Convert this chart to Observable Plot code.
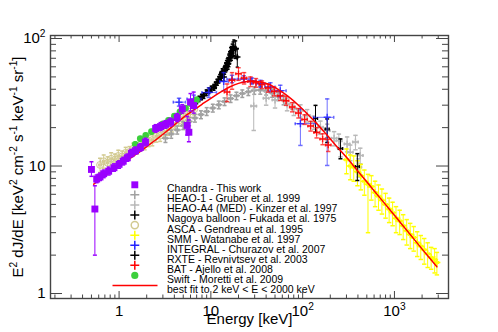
<!DOCTYPE html>
<html><head><meta charset="utf-8">
<script src="https://cdn.jsdelivr.net/npm/d3@7"></script>
<script src="https://cdn.jsdelivr.net/npm/@observablehq/plot@0.6"></script>
<style>body{margin:0;background:#fff} svg{display:block}</style>
</head><body><div id="chart"></div>
<script>
// ---------- data ----------
const xMajor = [1, 10, 100, 1000];
const xTickLabels = ["1", "10", "10^{2}", "10^{3}"];
const xMinor = [0.2,0.3,0.4,0.5,0.6,0.7,0.8,0.9,2,3,4,5,6,7,8,9,20,30,40,50,60,70,80,90,200,300,400,500,600,700,800,900,2000,3000];
const yMajor = [1, 10, 100];
const yTickLabels = ["1", "10", "10^{2}"];
const yMinor = [2,3,4,5,6,7,8,9,20,30,40,50,60,70,80,90];
const xTitle = "Energy [keV]";
const yTitle = "E^{2} dJ/dE [keV^{2} cm^{-2} s^{-1} keV^{-1} sr^{-1}]";

const legendLabels = ["Chandra - This work", "HEAO-1 - Gruber et al. 1999", "HEAO-A4 (MED) - Kinzer et al. 1997",
  "Nagoya balloon - Fukada et al. 1975", "ASCA - Gendreau et al. 1995", "SMM - Watanabe et al. 1997",
  "INTEGRAL - Churazov et al. 2007", "RXTE - Revnivtsev et al. 2003", "BAT - Ajello et al. 2008",
  "Swift - Moretti et al. 2009", "best fit to 2 keV < E < 2000 keV"];

const chandraE = [0.50,0.545,0.57,0.62,0.68,0.77,0.88,1.0,1.11,1.23,1.36,1.51,1.71,1.94,2.5,2.83,3.21,3.64,4.3,4.88,5.53,5.76,6.0,6.5];
const chandraF = [9.4,4.6,7.9,8.2,8.7,9.1,9.7,10.3,10.9,11.6,12.6,13.2,14.0,15.4,19.7,20.4,21.2,22.1,24.0,28.1,20.8,18.4,31.7,29.8];
const chandraLo = [8.3,2.0,7.4,7.7,8.1,8.5,9.1,9.6,10.2,10.9,11.8,12.4,13.1,14.4,18.4,19.0,19.8,20.6,22.3,26.0,17.5,15.5,27.0,26.0];
const chandraHi = [10.8,7.0,8.5,8.8,9.3,9.8,10.4,11.0,11.7,12.4,13.5,14.1,15.0,16.5,21.1,21.9,22.7,23.7,25.8,30.3,24.5,23.0,37.0,38.0];

const gruberE = [3.2,3.7,4.3,5.0,5.8,6.7,7.8,9.0,10.5,12.2,14.1,16.4,19.0,22.0,25.6,29.7,34.5,40.0,46.5,54.0,62.0];
const gruberF = [16.5,17.8,19.2,20.8,22.3,23.8,25.3,26.8,28.5,30.2,32.0,33.8,35.5,37.0,38.3,39.2,39.4,38.8,37.4,35.4,33.0];
const gruberDF = [1.2,1.3,1.4,1.5,1.6,1.7,1.8,1.9,2.0,2.1,2.2,2.3,2.4,2.5,2.6,2.7,2.8,2.8,2.8,2.8,2.8];

const kinzerE = [29.3,40,50,67.6,80,94.5,112,132,156,185,220,248,258,305,330,376,408,424];
const kinzerF = [29.5,34.0,33.0,30.6,28.1,27.2,24.9,22.0,20.1,19.0,16.5,15.8,13.7,14.9,12.8,15.4,9.8,12.1];
const kinzerDF = [10.5,4.0,4.5,3.5,3.2,3.0,2.8,2.6,2.4,2.3,2.1,2.0,1.9,2.0,1.8,2.0,1.6,1.7];

const nagoyaE = [138,185,258,394];
const nagoyaF = [23.6,19.5,13.7,9.9];
const nagoyaLo = [18.4,15.3,11.4,7.7];
const nagoyaHi = [29.9,23.4,16.3,12.5];

const ascaE = [0.62,0.68,0.75,0.82,0.9,0.98,1.08,1.18,1.3,1.43,1.57,1.73,1.9,2.1,2.3,2.55,2.8,3.1,3.4,3.75,4.1,4.5,5.0,5.5,6.0,6.6];
const ascaF = [10.2,10.9,10.6,11.4,11.2,12.0,11.9,12.7,12.9,13.7,13.8,14.8,14.9,15.8,16.0,17.1,17.3,18.6,19.3,20.6,21.6,22.8,24.2,25.3,26.8,27.9];
const ascaDF = [1.3,1.3,1.2,1.3,1.2,1.3,1.2,1.3,1.3,1.4,1.4,1.5,1.5,1.6,1.6,1.7,1.7,1.9,1.9,2.1,2.2,2.3,2.4,2.5,2.7,2.8];

const smmE = [300,330,360,395,430,470,515,560,615,670,730,800,875,955,1040,1140,1245,1360,1485,1620,1770,1935,2110,2300,2510,2740,2900];
const smmF = [11.2,10.0,9.8,9.0,8.4,7.6,7.2,6.9,6.2,5.8,5.4,5.0,4.6,4.3,3.9,3.7,3.4,3.1,2.9,2.75,2.5,2.35,2.2,2.05,1.92,1.85,1.75];
const smmLo = [8.7,7.8,7.6,7.0,6.5,5.9,3.0,5.4,4.8,4.5,4.2,3.9,3.6,3.4,3.0,2.9,2.65,2.4,2.25,2.15,1.95,1.85,1.7,1.6,1.55,1.45,1.4];
const smmHi = [13.6,12.2,12.0,11.0,10.3,9.3,8.6,8.4,7.6,7.1,6.6,6.1,5.6,5.2,4.8,4.5,4.15,3.8,3.55,3.35,3.05,2.85,2.7,2.5,2.3,2.25,2.1];

const integralE = [4.5,6.5,9.5,13.8,17,22.8,28,34.7,44.5,57,94.5,185];
const integralF = [31.7,33.5,37.8,46,48,48.1,46.5,44.2,41.7,39,21.5,24.1];
const integralLo = [29.5,31,34.5,39,45,45.5,44,41.5,38.5,35,14.5,10.1];
const integralHi = [34,36,41,54,51.5,51,49,47,45,43,28,33.6];
const integralElo = [3.9,5.5,8.0,12.5,15,20,26,31,39,50,83,132];
const integralEhi = [5.3,7.8,11.5,15.5,19.5,26,31,39,50,66,138,218];

const rxteE = [6.53,7.0,7.41,7.9,8.38,8.9,9.51,10.1,10.8,11.2,11.7,12.2,12.7,13.0,13.3,13.8,14.1,14.5,14.8,15.1,15.4,15.7,16.0,16.4,16.7,17.1,17.5,17.8,18.6,19.4];
const rxteF = [30.7,32.4,33.6,34.8,35.7,37.6,39.0,40.2,41.5,43.0,45.5,47.5,49.9,52.0,54.4,49.9,56.5,59.6,61.5,63.3,64.0,67.1,71.0,75.7,77.0,80.4,83.0,85.3,82.8,71.6];
const rxteDF = [1.5,1.6,1.6,1.7,1.8,1.9,2,2.1,2.2,2.4,2.5,2.8,3,3.2,3.5,3.5,4,5,5.5,6,6.5,7,8,9,9.5,10,11,12,13,12];

const batE = [15,17,20,23,27,31,36,42,49,57,66,77,90,105,122,142,165,190];
const batF = [38,47,53,49,46,45,43.5,41,38.5,35.5,32.5,29,26,23.2,20.6,18.3,16.3,14.6];
const batDF = [6,7,6,5,4,3.5,3,3,3,2.8,2.6,2.4,2.2,2.0,1.8,1.7,1.6,1.6];

const swiftE = [1.5,1.7,1.95,2.25,2.6,3.0,3.45,4.0,4.6,5.3,6.1,7.0];
const swiftF = [14.8,16.4,17.4,18.6,19.8,21.4,22.8,24.6,26.6,28.5,30.8,33.0];
const swiftDF = [0.6,0.6,0.6,0.7,0.7,0.8,0.8,0.9,1.0,1.1,1.3,1.5];

const fitE = [0.53,0.6,0.7,0.8,1.0,1.3,1.6,2.0,2.5,3.2,4,5,6.5,8,10,13,16,20,25,30,37,45,55,70,90,110,140,180,230,300,400,520,700,900,1200,1600,2100,2900];
const fitF = [7.2,7.7,8.4,9.0,10.0,11.4,12.6,14.2,16.0,18.4,21.0,24.0,27.5,30.5,34.0,38.3,41.7,44.5,46.0,46.3,45.2,43.0,39.5,35.0,30.0,26.0,21.8,17.8,14.5,11.7,9.1,7.25,5.6,4.5,3.5,2.72,2.14,1.62];

// bin half-widths (fraction of E) for horizontal bars
const gruberBin = 0.04, kinzerBin = 0.07, nagoyaBin = 0.05, ascaBin = 0.03, smmBin = 0.04, rxteBin = 0.015, batBin = 0.07, swiftBin = 0.02;

// ---------- helpers ----------
const W = 498, H = 332, mL = 50, mR = 50, mT = 35, mB = 34;
const FW = W - mL - mR, FH = H - mT - mB;
const FONT = "'Liberation Sans', Arial, Helvetica, sans-serif";

const capH = {draw(ctx, size) { const r = Math.sqrt(size / Math.PI); ctx.moveTo(-r, 0); ctx.lineTo(r, 0); }};
const capV = {draw(ctx, size) { const r = Math.sqrt(size / Math.PI); ctx.moveTo(0, -r); ctx.lineTo(0, r); }};

function rowsLH(E, F, lo, hi, bin, elo, ehi) {
  return E.map((e, i) => ({E: e, F: F[i], lo: lo[i], hi: hi[i],
    elo: elo ? elo[i] : e / (1 + (bin || 0)), ehi: ehi ? ehi[i] : e * (1 + (bin || 0))}));
}
function rowsDF(E, F, dF, bin) {
  return rowsLH(E, F, F.map((f, i) => f - dF[i]), F.map((f, i) => f + dF[i]), bin);
}
function errMarks(data, color, {op = 1, cap = 2, hbar = true, sw = 1} = {}) {
  return [
    Plot.ruleX(data, {x: "E", y1: "lo", y2: "hi", stroke: color, strokeOpacity: op, strokeWidth: sw}),
    hbar ? Plot.ruleY(data, {y: "F", x1: "elo", x2: "ehi", stroke: color, strokeOpacity: op, strokeWidth: sw}) : null,
    Plot.dot(data, {x: "E", y: "lo", symbol: capH, r: cap, stroke: color, fill: "none", strokeOpacity: op}),
    Plot.dot(data, {x: "E", y: "hi", symbol: capH, r: cap, stroke: color, fill: "none", strokeOpacity: op}),
    hbar ? Plot.dot(data, {x: "elo", y: "F", symbol: capV, r: 1.5, stroke: color, fill: "none", strokeOpacity: op}) : null,
    hbar ? Plot.dot(data, {x: "ehi", y: "F", symbol: capV, r: 1.5, stroke: color, fill: "none", strokeOpacity: op}) : null
  ];
}

const C = {
  chandra: "#9a00ff", gruber: "#a0a0a0", kinzer: "#b8b8b8", nagoya: "#000000", asca: "#d2ca90",
  smm: "#ffff00", integral: "#2222ff", rxte: "#000000", bat: "#ff0000", swift: "#3ccf3c", fit: "#ff0000"
};

const chandra = rowsLH(chandraE, chandraF, chandraLo, chandraHi, 0);
const gruber = rowsDF(gruberE, gruberF, gruberDF, gruberBin);
const kinzer = rowsDF(kinzerE, kinzerF, kinzerDF, kinzerBin);
const nagoya = rowsLH(nagoyaE, nagoyaF, nagoyaLo, nagoyaHi, nagoyaBin);
const asca = rowsDF(ascaE, ascaF, ascaDF, ascaBin);
const smm = rowsLH(smmE, smmF, smmLo, smmHi, smmBin);
const integral = rowsLH(integralE, integralF, integralLo, integralHi, 0, integralElo, integralEhi);
const rxte = rowsDF(rxteE, rxteF, rxteDF, rxteBin);
const bat = rowsDF(batE, batF, batDF, batBin);
const swift = rowsDF(swiftE, swiftF, swiftDF, swiftBin);
const fit = fitE.map((e, i) => ({E: e, F: fitF[i]}));

// legend
const legendStyle = [
  {symbol: "square", fill: C.chandra, r: 3.9},
  {symbol: "plus", stroke: C.gruber, r: 3},
  {symbol: "plus", stroke: C.kinzer, r: 3},
  {symbol: "plus", stroke: C.nagoya, r: 3},
  {symbol: "circle", stroke: C.asca, fill: "none", r: 3.6},
  {symbol: "plus", stroke: C.smm, r: 3},
  {symbol: "plus", stroke: C.integral, r: 3},
  {symbol: "plus", stroke: C.rxte, r: 3},
  {symbol: "plus", stroke: C.bat, r: 3},
  {symbol: "circle", fill: C.swift, r: 3.6},
  {symbol: capH, stroke: C.fit, fill: "none", r: 22.5, strokeWidth: 1.6}
];
const legendMarks = legendLabels.flatMap((lab, i) => {
  const dy = 149.3 + i * 10.07;
  const st = legendStyle[i];
  return [
    Plot.dot([lab], {frameAnchor: "top-left", dx: i === 10 ? 84.5 : 84.3, dy, ...st}),
    Plot.text([lab], {frameAnchor: "top-left", dx: 116.5, dy, text: d => d, textAnchor: "start", fontSize: 10.5, fill: "#000"})
  ];
});

const tickColor = "#444";
const chart = Plot.plot({
  width: W, height: H, marginLeft: mL, marginRight: mR, marginTop: mT, marginBottom: mB,
  style: {fontFamily: FONT, fontSize: "15px", background: "#fff", color: "#000"},
  x: {type: "log", domain: [0.179, 3880], axis: null},
  y: {type: "log", domain: [0.914, 105.6], axis: null},
  marks: [
    // data
    errMarks(asca, C.asca, {cap: 2}),
    Plot.dot(asca, {x: "E", y: "F", symbol: "circle", r: 3.4, stroke: C.asca, fill: "none", strokeWidth: 1}),
    errMarks(gruber, C.gruber, {cap: 2}),
    Plot.dot(gruber, {x: "E", y: "F", symbol: "plus", r: 2.4, stroke: C.gruber}),
    errMarks(kinzer, C.kinzer, {cap: 2.2}),
    Plot.dot(kinzer, {x: "E", y: "F", symbol: "plus", r: 2.4, stroke: C.kinzer}),
    errMarks(smm, C.smm, {cap: 2.2}),
    Plot.dot(smm, {x: "E", y: "F", symbol: "plus", r: 2.4, stroke: C.smm}),
    errMarks(nagoya, C.nagoya, {cap: 2}),
    errMarks(rxte, C.rxte, {cap: 1.6}),
    Plot.dot(rxte, {x: "E", y: "F", symbol: "plus", r: 2.2, stroke: C.rxte}),
    errMarks(integral, C.integral, {op: 0.65, cap: 2.2}),
    Plot.dot(integral, {x: "E", y: "F", symbol: "plus", r: 2.4, stroke: C.integral, strokeOpacity: 0.8}),
    errMarks(bat, C.bat, {op: 0.7, cap: 2.2}),
    Plot.dot(bat, {x: "E", y: "F", symbol: "plus", r: 2.2, stroke: C.bat, strokeOpacity: 0.8}),
    errMarks(swift, C.swift, {cap: 1.5}),
    Plot.dot(swift, {x: "E", y: "F", symbol: "circle", r: 3.3, fill: C.swift}),
    Plot.line(fit, {x: "E", y: "F", stroke: C.fit, strokeWidth: 1.5, curve: "catmull-rom"}),
    errMarks(chandra, C.chandra, {cap: 2, hbar: false}),
    Plot.dot(chandra, {x: "E", y: "F", symbol: "square", r: 3.9, fill: C.chandra}),
    // legend
    legendMarks,
    // frame and inward ticks
    Plot.frame({stroke: tickColor, strokeWidth: 1.4}),
    Plot.tickX(xMajor, {x: d => d, insetTop: FH - 7, stroke: tickColor}),
    Plot.tickX(xMajor, {x: d => d, insetBottom: FH - 7, stroke: tickColor}),
    Plot.tickX(xMinor, {x: d => d, insetTop: FH - 3.5, stroke: tickColor}),
    Plot.tickX(xMinor, {x: d => d, insetBottom: FH - 3.5, stroke: tickColor}),
    Plot.tickY(yMajor, {y: d => d, insetRight: FW - 12, stroke: tickColor}),
    Plot.tickY(yMajor, {y: d => d, insetLeft: FW - 12, stroke: tickColor}),
    Plot.tickY(yMinor, {y: d => d, insetRight: FW - 6, stroke: tickColor}),
    Plot.tickY(yMinor, {y: d => d, insetLeft: FW - 6, stroke: tickColor}),
    // tick labels
    Plot.axisX({ticks: xMajor, anchor: "bottom", tickSize: 0, tickPadding: 7, label: null,
      tickFormat: d => xTickLabels[xMajor.indexOf(d)]}),
    Plot.axisY({ticks: yMajor, anchor: "left", tickSize: 0, tickPadding: 5, label: null,
      tickFormat: d => yTickLabels[yMajor.indexOf(d)]}),
    // titles
    Plot.text([xTitle], {frameAnchor: "bottom", dy: 25, text: d => d, fontSize: 15, textAnchor: "middle"}),
    Plot.text([yTitle], {frameAnchor: "left", dx: -32, rotate: -90, text: d => d, fontSize: 15, textAnchor: "middle"})
  ]
});
document.getElementById("chart").appendChild(chart);

// superscripts: turn "^{...}" into raised tspans
function supify(svg) {
  svg.querySelectorAll("text").forEach(t => {
    const s = t.textContent;
    if (!s.includes("^{")) return;
    const fs = parseFloat(getComputedStyle(t).fontSize) || 15;
    while (t.firstChild) t.removeChild(t.firstChild);
    let raised = false;
    s.split(/(\^\{[^}]*\})/).forEach(p => {
      if (!p) return;
      const ts = document.createElementNS("http://www.w3.org/2000/svg", "tspan");
      if (p.startsWith("^{")) {
        ts.textContent = p.slice(2, -1);
        ts.setAttribute("font-size", (fs * 0.68).toFixed(1));
        ts.setAttribute("dy", (-fs * 0.42).toFixed(1));
        raised = true;
      } else {
        ts.textContent = p;
        if (raised) { ts.setAttribute("dy", (fs * 0.42).toFixed(1)); raised = false; }
      }
      t.appendChild(ts);
    });
  });
}
supify(chart);
</script>
</body></html>
